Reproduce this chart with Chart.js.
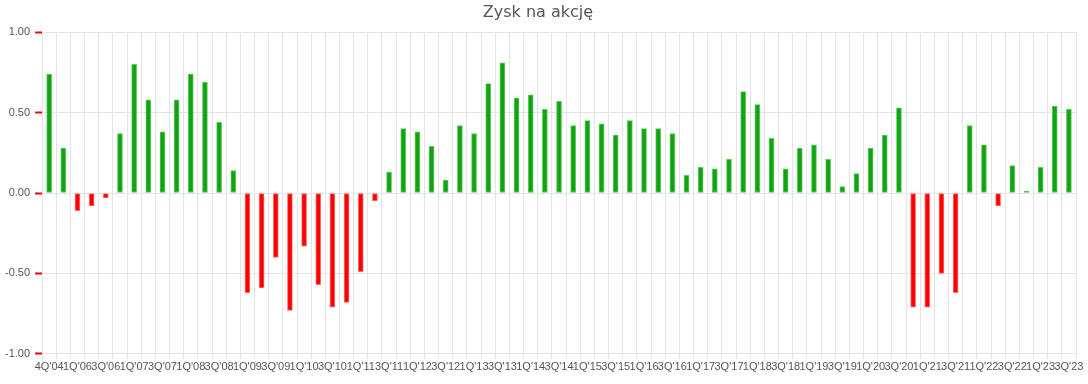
<!DOCTYPE html>
<html>
<head>
<meta charset="utf-8">
<script src="https://cdn.jsdelivr.net/npm/chart.js@4"></script>
<style>
  html, body { margin: 0; padding: 0; background: #fff; }
  #wrap { width: 1088px; height: 384px; }
</style>
</head>
<body>
<div id="wrap"><canvas id="c" width="1088" height="384"></canvas></div>
<script>
/* Zysk na akcję – kwartalnie, 4Q'04 … 3Q'23 (bez 1Q–3Q'05) */
const quarters = [
  "4Q'04", "4Q'05",
  "1Q'06", "2Q'06", "3Q'06", "4Q'06",
  "1Q'07", "2Q'07", "3Q'07", "4Q'07",
  "1Q'08", "2Q'08", "3Q'08", "4Q'08",
  "1Q'09", "2Q'09", "3Q'09", "4Q'09",
  "1Q'10", "2Q'10", "3Q'10", "4Q'10",
  "1Q'11", "2Q'11", "3Q'11", "4Q'11",
  "1Q'12", "2Q'12", "3Q'12", "4Q'12",
  "1Q'13", "2Q'13", "3Q'13", "4Q'13",
  "1Q'14", "2Q'14", "3Q'14", "4Q'14",
  "1Q'15", "2Q'15", "3Q'15", "4Q'15",
  "1Q'16", "2Q'16", "3Q'16", "4Q'16",
  "1Q'17", "2Q'17", "3Q'17", "4Q'17",
  "1Q'18", "2Q'18", "3Q'18", "4Q'18",
  "1Q'19", "2Q'19", "3Q'19", "4Q'19",
  "1Q'20", "2Q'20", "3Q'20", "4Q'20",
  "1Q'21", "2Q'21", "3Q'21", "4Q'21",
  "1Q'22", "2Q'22", "3Q'22", "4Q'22",
  "1Q'23", "2Q'23", "3Q'23",
];

const eps = [
  0.74, 0.28,
  -0.11, -0.08, -0.03, 0.37,
  0.80, 0.58, 0.38, 0.58,
  0.74, 0.69, 0.44, 0.14,
  -0.62, -0.59, -0.40, -0.73,
  -0.33, -0.57, -0.71, -0.68,
  -0.49, -0.05, 0.13, 0.40,
  0.38, 0.29, 0.08, 0.42,
  0.37, 0.68, 0.81, 0.59,
  0.61, 0.52, 0.57, 0.42,
  0.45, 0.43, 0.36, 0.45,
  0.40, 0.40, 0.37, 0.11,
  0.16, 0.15, 0.21, 0.63,
  0.55, 0.34, 0.15, 0.28,
  0.30, 0.21, 0.04, 0.12,
  0.28, 0.36, 0.53, -0.71,
  -0.71, -0.50, -0.62, 0.42,
  0.30, -0.08, 0.17, 0.01,
  0.16, 0.54, 0.52,
];

const yTicks = [-1, -0.5, 0, 0.5, 1];

const GREEN = '#12a312', GREEN_EDGE = '#5ccc5c';
const RED = '#ff0000', RED_EDGE = '#ff7070';
const GRID = '#e4e4e4';
const MUTED = '#555';

new Chart(document.getElementById('c').getContext('2d'), {
  type: 'bar',
  data: {
    labels: quarters,
    datasets: [{
      label: 'Zysk na akcję',
      data: eps,
      backgroundColor: eps.map(v => v < 0 ? RED : GREEN),
      borderColor: eps.map(v => v < 0 ? RED_EDGE : GREEN_EDGE),
      borderWidth: 1,
      borderSkipped: false,
      barThickness: 5,
    }],
  },
  options: {
    responsive: false, animation: false,
    layout: { padding: { left: 0, right: 12, top: 0, bottom: 8 } },
    plugins: {
      legend: { display: false },
      tooltip: { enabled: false },
      title: {
        display: true, text: 'Zysk na akcję',
        color: MUTED, font: { family: 'DejaVu Sans', size: 16, weight: 'normal' },
        padding: { top: 3, bottom: 10 },
      },
    },
    scales: {
      x: {
        grid: { color: GRID, tickColor: GRID, tickLength: 5 },
        border: { color: GRID },
        ticks: {
          color: MUTED, autoSkip: false, maxRotation: 0, minRotation: 0, padding: 2,
          font: { family: 'Liberation Sans', size: 11 },
          callback: (v, i) => i % 2 === 0 ? quarters[i] : '',
        },
      },
      y: {
        min: -1, max: 1,
        afterBuildTicks: (ax) => { ax.ticks = yTicks.map(v => ({ value: v })); },
        grid: { color: GRID, tickColor: '#ee0000', tickLength: 7, tickWidth: 2 },
        border: { color: GRID },
        ticks: {
          color: MUTED, padding: 5,
          font: { family: 'Liberation Sans', size: 11 },
          callback: (v) => v.toFixed(2),
        },
      },
    },
  },
});
</script>
</body>
</html>
